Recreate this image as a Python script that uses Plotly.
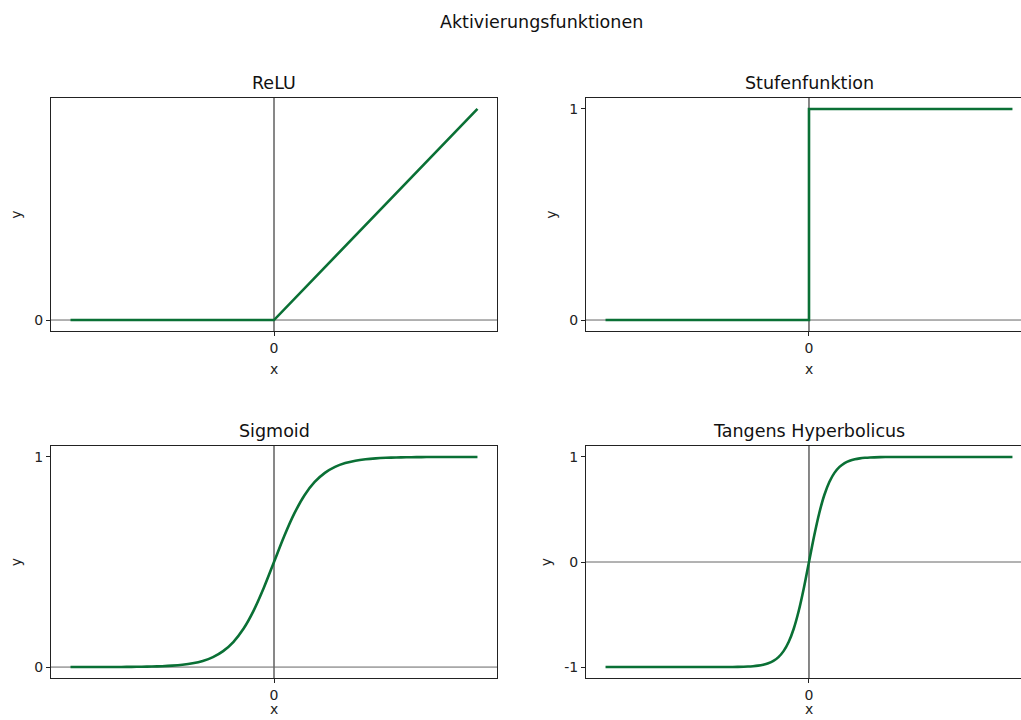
import plotly.graph_objects as go

W, H = 1021, 720

# ---- data ----
relu_x = [-10, 0, 10]
relu_y = [0, 0, 10]

step_x = [-10, 0, 0, 10]
step_y = [0, 0, 1, 1]

sig_x = [-10, -9.5, -9, -8.5, -8, -7.5, -7, -6.5, -6, -5.5, -5, -4.5, -4, -3.5, -3, -2.5, -2, -1.5, -1, -0.5,
         0, 0.5, 1, 1.5, 2, 2.5, 3, 3.5, 4, 4.5, 5, 5.5, 6, 6.5, 7, 7.5, 8, 8.5, 9, 9.5, 10]
sig_y = [0.0000, 0.0001, 0.0001, 0.0002, 0.0003, 0.0006, 0.0009, 0.0015, 0.0025, 0.0041, 0.0067, 0.0110,
         0.0180, 0.0293, 0.0474, 0.0759, 0.1192, 0.1824, 0.2689, 0.3775,
         0.5000, 0.6225, 0.7311, 0.8176, 0.8808, 0.9241, 0.9526, 0.9707, 0.9820, 0.9890, 0.9933, 0.9959,
         0.9975, 0.9985, 0.9991, 0.9994, 0.9997, 0.9998, 0.9999, 0.9999, 1.0000]

tanh_x = [-10, -9, -8, -7, -6, -5, -4.5, -4, -3.5, -3, -2.75, -2.5, -2.25, -2, -1.75, -1.5, -1.25, -1, -0.75, -0.5, -0.25,
          0, 0.25, 0.5, 0.75, 1, 1.25, 1.5, 1.75, 2, 2.25, 2.5, 2.75, 3, 3.5, 4, 4.5, 5, 6, 7, 8, 9, 10]
tanh_y = [-1.0000, -1.0000, -1.0000, -1.0000, -1.0000, -0.9999, -0.9998, -0.9993, -0.9982, -0.9951, -0.9918,
          -0.9866, -0.9780, -0.9640, -0.9414, -0.9051, -0.8483, -0.7616, -0.6351, -0.4621, -0.2449,
          0.0, 0.2449, 0.4621, 0.6351, 0.7616, 0.8483, 0.9051, 0.9414, 0.9640, 0.9780, 0.9866, 0.9918,
          0.9951, 0.9982, 0.9993, 0.9998, 0.9999, 1.0000, 1.0000, 1.0000, 1.0000, 1.0000]

titles = ["ReLU", "Stufenfunktion", "Sigmoid", "Tangens Hyperbolicus"]
suptitle = "Aktivierungsfunktionen"
yticks = [[0], [0, 1], [0, 1], [-1, 0, 1]]
xticks = [0]

GREEN = "#0a7035"
FONT = "DejaVu Sans"
TXT = "#222"

# ---- layout geometry (pixels) ----
def px_x(p):
    return p / W

def px_y(p):
    return 1 - p / H

col_dom = [[px_x(51), px_x(497)], [px_x(586), 1.0]]
row_dom = [[px_y(331), px_y(98)], [px_y(678), px_y(446)]]
col_center = [274, 809]
xtitle_y = [369, 709]
x_ranges = [[-10.96, 10.96], [-10.96, 10.42]]
y_ranges = [[-0.52, 10.52], [-0.052, 1.052], [-0.052, 1.052], [-1.104, 1.104]]
shapes_kind = ["linear", "linear", "spline", "spline"]

fig = go.Figure()
series = [(relu_x, relu_y), (step_x, step_y), (sig_x, sig_y), (tanh_x, tanh_y)]

annotations = []
shapes = []
for i, (xs, ys) in enumerate(series):
    r, c = divmod(i, 2)
    n = i + 1
    xa = "x" if n == 1 else f"x{n}"
    ya = "y" if n == 1 else f"y{n}"
    xkey = "xaxis" if n == 1 else f"xaxis{n}"
    ykey = "yaxis" if n == 1 else f"yaxis{n}"

    line = dict(color=GREEN, width=2.6, shape=shapes_kind[i])
    if shapes_kind[i] == "spline":
        line["smoothing"] = 0.8
    fig.add_trace(go.Scatter(x=xs, y=ys, mode="lines", xaxis=xa, yaxis=ya,
                             line=line, showlegend=False, hoverinfo="skip"))

    fig.update_layout({
        xkey: dict(domain=col_dom[c], range=x_ranges[c], anchor=ya,
                   showgrid=False, zeroline=False, showline=True, linecolor=TXT,
                   linewidth=1, mirror=True, ticks="outside", ticklen=4, tickcolor=TXT,
                   tickvals=xticks, ticktext=["0"],
                   tickfont=dict(family=FONT, size=14, color=TXT)),
        ykey: dict(domain=row_dom[r], range=y_ranges[i], anchor=xa,
                   showgrid=False, zeroline=False, showline=True, linecolor=TXT,
                   linewidth=1, mirror=(c == 0), ticks="outside", ticklen=4, tickcolor=TXT,
                   tickvals=yticks[i], ticktext=[str(v) for v in yticks[i]],
                   tickfont=dict(family=FONT, size=14, color=TXT),
                   title=dict(text="y", font=dict(family=FONT, size=14, color=TXT), standoff=9)),
    })

    # reference lines at x=0 and y=0
    shapes.append(dict(type="line", xref=xa, yref=f"{ya} domain", x0=0, x1=0, y0=0, y1=1,
                       line=dict(color="#111", width=1), layer="below"))
    shapes.append(dict(type="line", xref=f"{xa} domain", yref=ya, x0=0, x1=1, y0=0, y1=0,
                       line=dict(color="#666", width=1), layer="below"))

    # x axis title
    annotations.append(dict(text="x", xref="paper", yref="paper",
                            x=px_x(col_center[c]), y=px_y(xtitle_y[r]),
                            xanchor="center", yanchor="middle", showarrow=False,
                            font=dict(family=FONT, size=14, color=TXT)))

    annotations.append(dict(text=titles[i], xref="paper",
                            x=px_x(col_center[c]), yref="paper",
                            y=row_dom[r][1], yanchor="bottom", xanchor="center", yshift=3,
                            showarrow=False, font=dict(family=FONT, size=17.5, color="#111")))

annotations.append(dict(text=suptitle, xref="paper", yref="paper", x=px_x(541), y=px_y(22),
                        xanchor="center", yanchor="middle", showarrow=False,
                        font=dict(family=FONT, size=17.5, color="#111")))

fig.update_layout(width=W, height=H, margin=dict(l=0, r=0, t=0, b=0),
                  paper_bgcolor="white", plot_bgcolor="white",
                  annotations=annotations, shapes=shapes)

fig.write_html("out.html")
